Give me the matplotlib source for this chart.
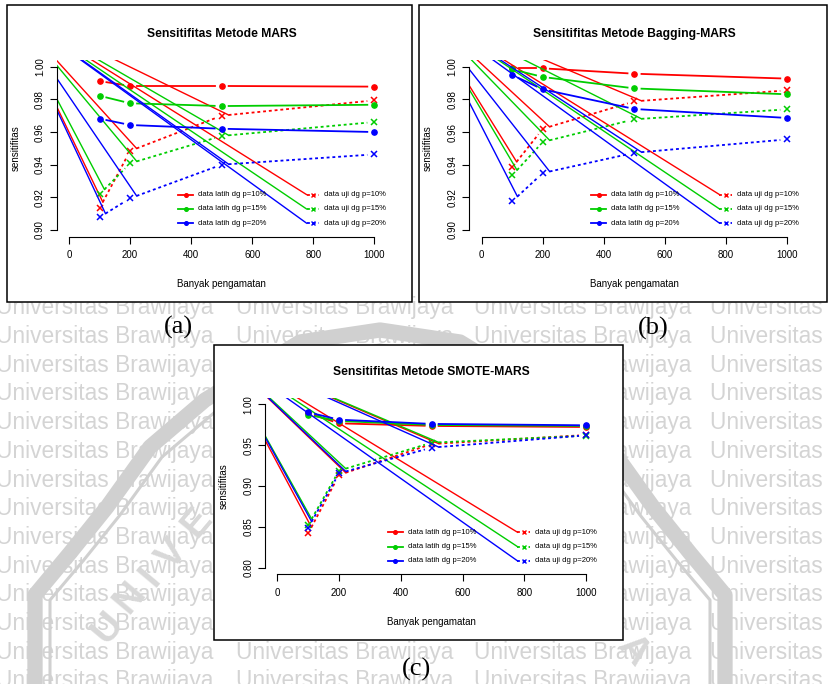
import matplotlib
matplotlib.use('Agg')
import matplotlib.pyplot as plt
import numpy as np
from matplotlib import font_manager
from matplotlib.patches import Rectangle
from matplotlib.ticker import FormatStrFormatter

# data
n_obs = [100, 200, 500, 1000]
p_labels = ['10%', '15%', '20%']

mars_latih = [[0.9912, 0.9882, 0.9882, 0.9878],
              [0.9822, 0.9776, 0.9759, 0.9767],
              [0.9682, 0.9643, 0.9620, 0.9600]]
mars_uji = [[0.9133, 0.9484, 0.9700, 0.9794],
            [0.9218, 0.9408, 0.9576, 0.9661],
            [0.9078, 0.9194, 0.9400, 0.9463]]

bag_latih = [[0.9990, 0.9990, 0.9957, 0.9927],
             [0.9984, 0.9937, 0.9867, 0.9831],
             [0.9949, 0.9861, 0.9741, 0.9686]]
bag_uji = [[0.9384, 0.9620, 0.9788, 0.9855],
           [0.9335, 0.9539, 0.9678, 0.9739],
           [0.9176, 0.9349, 0.9473, 0.9555]]

smote_latih = [[0.9890, 0.9767, 0.9735, 0.9722],
               [0.9870, 0.9796, 0.9747, 0.9735],
               [0.9902, 0.9812, 0.9760, 0.9743]]
smote_uji = [[0.8420, 0.9135, 0.9514, 0.9624],
             [0.8522, 0.9188, 0.9530, 0.9616],
             [0.8490, 0.9155, 0.9470, 0.9620]]

colors = ['#FF0000', '#00CD00', '#0000FF']

W, H = 829, 684
fig = plt.figure(figsize=(W / 100, H / 100), dpi=100)
fig.patch.set_facecolor('white')

boxes = [(7, 5, 412, 302), (419, 5, 827, 302), (214, 345, 623, 640)]


def fx(px):
    return px / W


def fy(py):
    return 1 - py / H


def visible_part(x0, y0, x1, y1):
    area = (x1 - x0) * (y1 - y0)
    hidden = 0
    for bx0, by0, bx1, by1 in boxes:
        w = min(x1, bx1) - max(x0, bx0)
        h = min(y1, by1) - max(y0, by0)
        if w > 0 and h > 0:
            hidden += w * h
    return 1 - hidden / area


# background watermark
names = {f.name for f in font_manager.fontManager.ttflist}
if 'Liberation Sans Narrow' in names:
    wm_font, wm_size = 'Liberation Sans Narrow', 20
else:
    wm_font, wm_size = 'Liberation Sans', 16.4
wm_col = '#d4d4d4'
for j in range(-11, 13):
    base = 343 + 28.7 * j
    for x0 in [-4, 236, 474, 710]:
        if visible_part(max(x0, 0), base - 17, min(x0 + 220, W), base + 5) < 0.12:
            continue
        fig.text(fx(x0), fy(base), 'Universitas Brawijaya', family=wm_font,
                 fontsize=wm_size, color=wm_col, ha='left', va='baseline', zorder=0)

# faint logo behind
band = np.array([(35, 700), (35, 595), (70, 553), (107, 507), (150, 447),
                 (205, 400), (300, 342), (380, 330)])
inner = np.array([(50, 700), (50, 600), (83, 561), (120, 515), (162, 457),
                  (215, 412), (306, 356), (380, 345)])
for pts, lw in [(band, 11), (inner, 2.2)]:
    xs = np.concatenate([pts[:, 0], 760 - pts[::-1, 0]])
    ys = np.concatenate([pts[:, 1], pts[::-1, 1]])
    fig.add_artist(plt.Line2D(fx(xs), fy(ys), color='#d0d0d0', lw=lw,
                              transform=fig.transFigure, zorder=0.5))
for ch, x, y in [('U', 108, 628), ('N', 130, 598), ('I', 150, 577), ('V', 172, 555), ('E', 197, 523)]:
    fig.text(fx(x), fy(y), ch, fontsize=28, weight='bold', family='Liberation Sans',
             color='#d8d8d8', rotation=50, ha='center', va='center', zorder=0.5)
fig.text(fx(633), fy(650), 'A', fontsize=28, weight='bold', family='Liberation Sans',
         color='#d8d8d8', rotation=-50, ha='center', va='center', zorder=0.5)

plt.rcParams['font.family'] = 'Liberation Sans'


def panel(box, x_px, y_px, y_lo, y_hi, ystep, title, latih, uji):
    bx0, by0, bx1, by1 = box
    fig.add_artist(Rectangle((fx(bx0), fy(by1)), fx(bx1) - fx(bx0), fy(by0) - fy(by1),
                             transform=fig.transFigure, facecolor='white',
                             edgecolor='black', lw=1.1, zorder=1))
    kx = (x_px[1] - x_px[0]) / 1000
    left = x_px[0] - 40 * kx
    right = x_px[0] + 1040 * kx
    rng = y_hi - y_lo
    ky = (y_px[0] - y_px[1]) / rng
    top = y_px[1] - 0.04 * rng * ky
    bottom = y_px[0] + 0.04 * rng * ky
    ax = fig.add_axes([fx(left), fy(bottom), fx(right) - fx(left), fy(top) - fy(bottom)], zorder=2)
    ax.set_xlim(-40, 1040)
    ax.set_ylim(y_lo - 0.04 * rng, y_hi + 0.04 * rng)
    ax.patch.set_visible(False)
    for s in ['top', 'right']:
        ax.spines[s].set_visible(False)
    ax.spines['left'].set_bounds(y_lo, y_hi)
    ax.spines['bottom'].set_bounds(0, 1000)
    for s in ['left', 'bottom']:
        ax.spines[s].set_linewidth(0.8)
    ax.set_xticks([0, 200, 400, 600, 800, 1000])
    nt = int(round(rng / ystep))
    ax.set_yticks([round(y_lo + i * ystep, 2) for i in range(nt + 1)])
    ax.yaxis.set_major_formatter(FormatStrFormatter('%.2f'))
    ax.tick_params(axis='both', direction='out', length=5, width=0.8, labelsize=7)
    ax.tick_params(axis='x', pad=5)
    ax.tick_params(axis='y', pad=3.5, labelrotation=90)
    for lab in ax.get_yticklabels():
        lab.set_va('center')

    cx = (left + right) / 2
    cy = (top + bottom) / 2
    fig.text(fx(cx), fy(top - 26), title, fontsize=8.7, weight='bold', ha='center', va='center', zorder=3)
    fig.text(fx(cx), fy(bottom + 47.5), 'Banyak pengamatan', fontsize=7, ha='center', va='center', zorder=3)
    fig.text(fx(left - 41.5), fy(cy), 'sensitifitas', fontsize=7, rotation=90,
             ha='center', va='center', zorder=3)

    inv = ax.transData.inverted()
    origin = inv.transform([bx0 + 2, H - (by0 + 3)])
    gap = 7
    dotted = (0, (1.6, 1.6))
    rows = [y_lo + f * rng for f in (0.217, 0.129, 0.042)]

    for k in range(3):
        c = colors[k]
        for ys, style, mk in [(latih[k], '-', 'o'), (uji[k], dotted, 'x')]:
            pts = ax.transData.transform(np.column_stack([n_obs, ys]))
            for i in range(len(n_obs) - 1):
                d = pts[i + 1] - pts[i]
                u = d / np.hypot(d[0], d[1])
                s = inv.transform(pts[i] + gap * u)
                e = inv.transform(pts[i + 1] - gap * u)
                ax.plot([s[0], e[0]], [s[1], e[1]], color=c, lw=1.3, ls=style)
                if mk == 'x':
                    ax.plot([origin[0], s[0]], [origin[1], s[1]], color=c, lw=1.0)
            if mk == 'o':
                ax.plot(n_obs, ys, 'o', color=c, ms=3.8, mec=c)
            else:
                ax.plot(n_obs, ys, 'x', color=c, ms=3.8, mew=1.1)

        yr = rows[k]
        ax.plot([358, 407], [yr, yr], color=c, lw=1.3)
        ax.plot([382.5], [yr], 'o', color=c, ms=2.6)
        ax.text(422, yr, 'data latih dg p=' + p_labels[k], fontsize=5.5, va='center')
        ax.plot([778, 820], [yr, yr], color=c, lw=1.3, ls=dotted)
        ax.plot([799], [yr], 'x', color=c, ms=3.2, mew=1.0)
        ax.text(836, yr, 'data uji dg p=' + p_labels[k], fontsize=5.5, va='center')
        ax.plot([origin[0], 778], [origin[1], yr], color=c, lw=1.0)
    return ax


panel(boxes[0], (69, 374.3), (230, 66.7), 0.90, 1.00, 0.02,
      'Sensitifitas Metode MARS', mars_latih, mars_uji)
panel(boxes[1], (481.7, 787.3), (230, 66.7), 0.90, 1.00, 0.02,
      'Sensitifitas Metode Bagging-MARS', bag_latih, bag_uji)
panel(boxes[2], (277.3, 586), (567.7, 404.3), 0.80, 1.00, 0.05,
      'Sensitifitas Metode SMOTE-MARS', smote_latih, smote_uji)

for lab, x, y in [('(a)', 178, 327), ('(b)', 653, 328), ('(c)', 417, 669)]:
    fig.text(fx(x), fy(y), lab, family='Liberation Serif', fontsize=19,
             ha='center', va='center', zorder=3)

fig.savefig('out.png', dpi=100)
